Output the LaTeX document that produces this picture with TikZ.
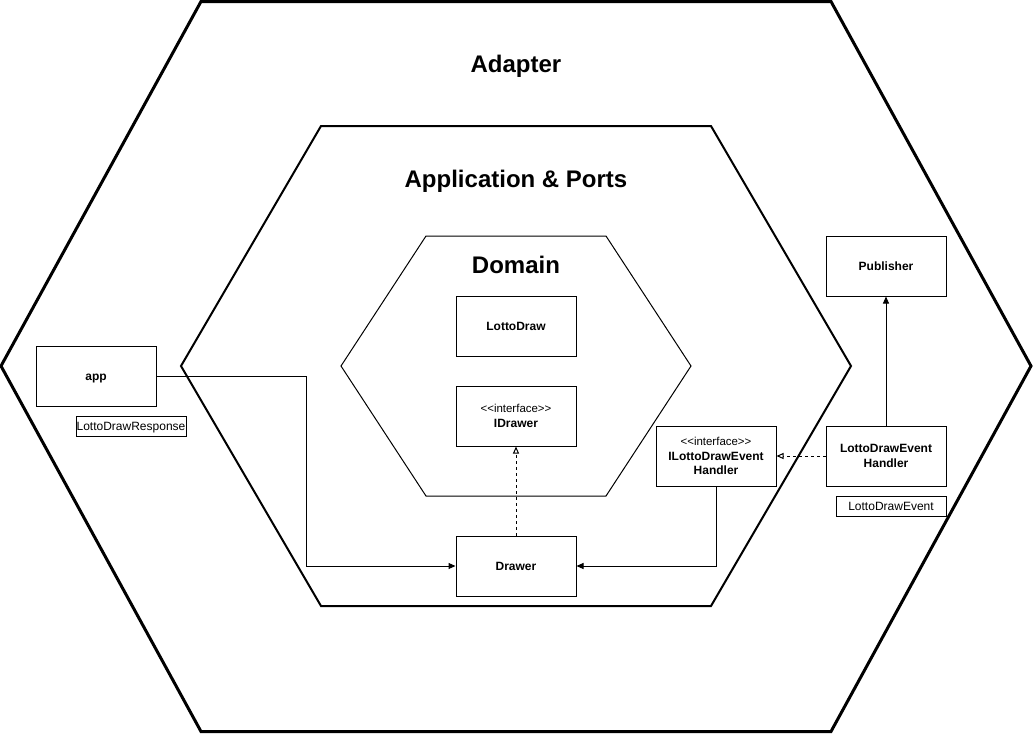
\documentclass[tikz,border=0pt]{standalone}
\usepackage{fontspec}
\setmainfont{Liberation Sans}
\usetikzlibrary{arrows.meta}
\newcommand{\stereo}{{\fontsize{8.6}{10.8}\selectfont\mdseries <\kern0pt<interface>\kern0pt>}}
\begin{document}
\begin{tikzpicture}[x=0.75pt,y=-0.75pt,
  box/.style={draw, line width=0.75pt, minimum width=90pt, minimum height=45pt, inner sep=0pt,
    font=\fontsize{9}{10.8}\selectfont\bfseries, align=center},
  onebox/.style={box, text height=6.45pt, text depth=0pt},
  tag/.style={draw, line width=0.75pt, minimum width=82.5pt, minimum height=15pt, inner sep=0pt,
    font=\fontsize{9}{10.8}\selectfont, text height=6.45pt, text depth=0pt},
  title/.style={font=\fontsize{18}{21.6}\selectfont\bfseries, anchor=base, inner sep=0pt},
  conn/.style={line width=0.75pt, -{Triangle[length=5.25pt,width=4.5pt]}},
  impl/.style={line width=0.75pt, dash pattern=on 2.25pt off 2.25pt,
    -{Triangle[open,length=5.25pt,width=4.5pt,fill=white]}},
  hexA/.style={line width=2.25pt, line join=miter},
  hexB/.style={line width=1.5pt, line join=miter},
  hexC/.style={line width=0.75pt, line join=miter},
]
\useasboundingbox[fill=white] (0,0) rectangle (1033,733);

% hexagons
\draw[hexA] (1,366) -- (201,1.5) -- (831,1.5) -- (1031,366) -- (831,731.5) -- (201,731.5) -- cycle;
\draw[hexB] (181,366) -- (321,126) -- (711,126) -- (851,366) -- (711,606) -- (321,606) -- cycle;
\draw[hexC] (341,366) -- (426,236) -- (606,236) -- (691,366) -- (606,496) -- (426,496) -- cycle;

% titles
\node[title] (tAdapter) at (516,72.5) {Adapter};
\node[title] (tApp) at (516,187) {Application \& Ports};
\node[title] (tDomain) at (516,273) {Domain};

% boxes
\node[onebox] (LottoDraw) at (516,326) {LottoDraw};
\node[box] (IDrawer) at (516,416) {\stereo\\IDrawer};
\node[onebox] (Drawer) at (516,566) {Drawer};
\node[onebox] (app) at (96,376) {app};
\node[tag] (resp) at (131,426) {LottoDrawResponse};
\node[box] (ILDEH) at (716,456) {\stereo\\ILottoDrawEvent\\Handler};
\node[box] (LDEH) at (886,456) {LottoDrawEvent\\Handler};
\node[tag] (evt) at (891,506) {LottoDrawEvent};
\node[onebox] (Publisher) at (886,266) {Publisher};

% connectors
\draw[conn] (app.east) -- ++(150,0) |- (Drawer.west);
\draw[conn] (ILDEH.south) |- (Drawer.east);
\draw[conn] (LDEH.north) -- (Publisher.south);
\draw[impl] (LDEH.west) -- (ILDEH.east);
\draw[impl] (Drawer.north) -- (IDrawer.south);
\end{tikzpicture}
\end{document}
